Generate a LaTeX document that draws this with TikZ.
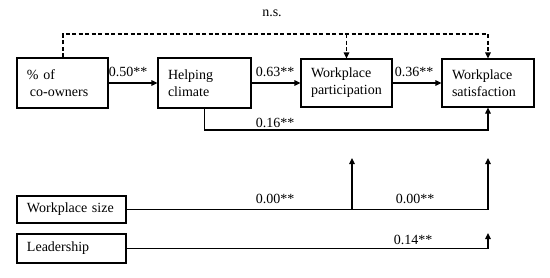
\documentclass[tikz,border=0pt]{standalone}
\usepackage{fontspec}
\setmainfont{Liberation Serif}
\usetikzlibrary{arrows.meta}
\begin{document}
\begin{tikzpicture}[x=1pt,y=-1pt,
  box/.style={draw,line width=1.1pt,rectangle,inner xsep=10pt,inner ysep=0pt,align=left,
    font=\fontsize{14}{17}\selectfont},
  lbl/.style={font=\fontsize{14}{16}\selectfont,inner sep=0pt},
  con/.style={line width=1.1pt},
  arr/.style={con,-{Triangle[length=6pt,width=5.5pt]}},
  darr/.style={line width=1.1pt,dash pattern=on 4pt off 2.5pt,-{Triangle[length=6pt,width=5.5pt]}}]
\useasboundingbox (0,0) rectangle (550,277);
\node[box,minimum width=91pt,minimum height=50pt,text width=71pt] (b1) at (62.5,83) {\% of\\\hspace*{3pt}co-owners};
\node[box,minimum width=93pt,minimum height=50pt,text width=73pt] (b2) at (204.5,83) {Helping\\climate};
\node[box,minimum width=91pt,minimum height=48pt,text width=71pt] (b3) at (346.5,83) {Workplace\\participation};
\node[box,minimum width=92pt,minimum height=48pt,text width=72pt] (b4) at (488,83) {Workplace\\satisfaction};
\node[box,minimum width=109pt,minimum height=27pt,text width=89pt] (ws) at (71.5,209.5) {Workplace size};
\node[box,minimum width=109pt,minimum height=29pt,text width=89pt] (ld) at (71.5,248.5) {Leadership};
% main chain
\draw[arr] (b1) -- (b2);
\draw[arr] (b2) -- (b3);
\draw[arr] (b3) -- (b4);
% dashed n.s.
\coordinate (d1) at (63,34);
\coordinate (d2) at (346.5,34);
\draw[darr] (b1.north -| d1) -- (d1) -| (b4.north);
\draw[darr] (d2) -- (b3.north);
\node[lbl] (ns) at (272,13) {n.s.};
% helping climate -> satisfaction
\coordinate (h1) at (204.5,130);
\draw[arr] (b2.south) -- (h1) -| (b4.south);
% workplace size
\coordinate (wA) at (352,158);
\coordinate (wB) at (488,158);
\draw[arr] (ws.east) -| (wB);
\draw[arr] (ws.east -| wA) -- (wA);
% leadership
\coordinate (lB) at (488,233);
\draw[arr] (ld.east) -| (lB);
% labels
\node[lbl] (l1) at (128,72) {0.50**};
\node[lbl] (l2) at (275,72) {0.63**};
\node[lbl] (l3) at (414,72) {0.36**};
\node[lbl] (l4) at (275,123) {0.16**};
\node[lbl] (l5) at (275,199) {0.00**};
\node[lbl] (l6) at (415,199) {0.00**};
\node[lbl] (l7) at (413,240) {0.14**};
\end{tikzpicture}
\end{document}
